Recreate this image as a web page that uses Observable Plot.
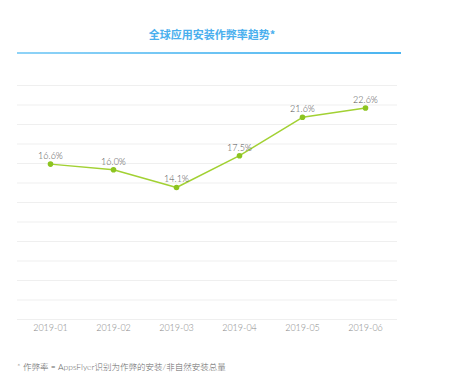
<!DOCTYPE html>
<html><head><meta charset="utf-8">
<script src="https://cdn.jsdelivr.net/npm/d3@7"></script>
<script src="https://cdn.jsdelivr.net/npm/@observablehq/plot@0.6"></script>
<style>
html,body{margin:0;padding:0;background:#fff;width:453px;height:381px;overflow:hidden;}
body{position:relative;font-family:Lato,"Noto Sans CJK SC",sans-serif;}
#title{position:absolute;left:0;width:424px;top:26px;text-align:center;font-size:11px;font-weight:bold;color:#4aafee;font-family:"Noto Sans CJK SC",sans-serif;}
#bar{position:absolute;left:17px;top:52px;width:384px;height:2px;background:linear-gradient(90deg,#8fd3f7,#4ab4f0);}
#chart{position:absolute;left:0;top:0;}
#note{position:absolute;left:17px;top:360px;font-size:8.5px;color:#666;font-weight:300;font-family:Lato,"Noto Sans CJK SC",sans-serif;}
</style></head>
<body>
<div id="chart"></div>
<div id="title">全球应用安装作弊率趋势*</div>
<div id="bar"></div>
<div id="note">* 作弊率 = AppsFlyer识别为作弊的安装/非自然安装总量</div>
<script>
const months = ["2019-01","2019-02","2019-03","2019-04","2019-05","2019-06"];
const rates = [16.6, 16.0, 14.1, 17.5, 21.6, 22.6];
const gridValues = d3.range(0, 13).map(i => i * 25 / 12);
const data = months.map((m, i) => ({month: m, rate: rates[i]}));
const chart = Plot.plot({
  width: 453, height: 381,
  marginTop: 85, marginBottom: 62, marginLeft: 17, marginRight: 56,
  style: {fontFamily: "Lato, 'Noto Sans CJK SC', sans-serif", background: "transparent"},
  x: {type: "point", domain: months, padding: 0.5, label: null},
  y: {domain: [0, 25], axis: null},
  marks: [
    Plot.ruleY(gridValues, {stroke: "#efefef", strokeWidth: 1}),
    Plot.axisX({tickSize: 0, tickPadding: 5, fontSize: 9, color: "#888", fontWeight: 300, label: null}),
    Plot.line(data, {x: "month", y: "rate", stroke: "#a2d133", strokeWidth: 1.5}),
    Plot.dot(data, {x: "month", y: "rate", r: 2.8, fill: "#8cc420"}),
    Plot.text(data, {x: "month", y: "rate", text: d => d.rate.toFixed(1) + "%", dy: -8, fontSize: 9, fontWeight: 300, fill: "#555"})
  ]
});
document.getElementById("chart").appendChild(chart);
</script>
</body></html>
